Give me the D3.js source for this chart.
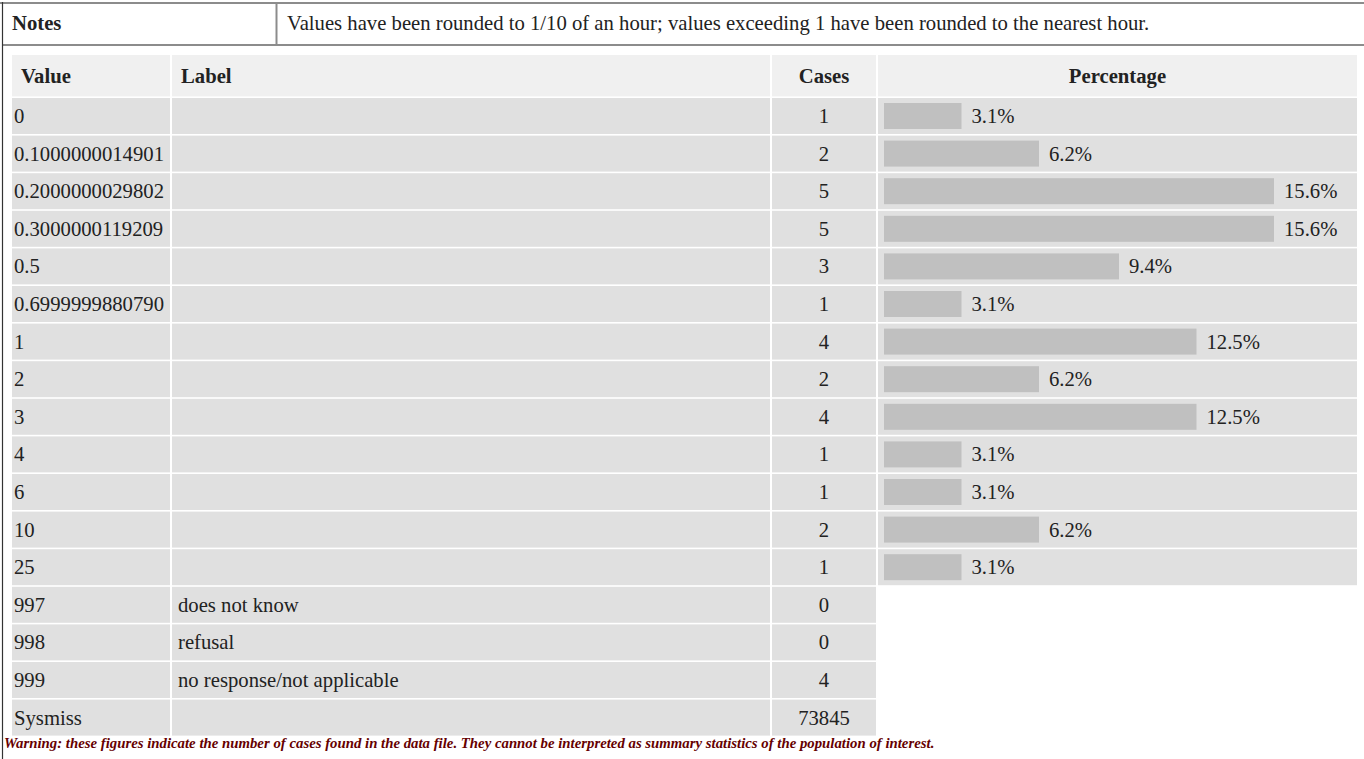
<!DOCTYPE html>
<html>
<head>
<meta charset="utf-8">
<script src="https://cdn.jsdelivr.net/npm/d3@7"></script>
<style>
  html, body { margin: 0; padding: 0; background: #ffffff; }
  svg { display: block; }
  text { font-family: "Liberation Serif", "Times New Roman", serif; }
</style>
</head>
<body>
<div id="chart"></div>
<script>
// ---------- data ----------
const noteLabel = "Notes";
const noteText = "Values have been rounded to 1/10 of an hour; values exceeding 1 have been rounded to the nearest hour.";
const headers = ["Value", "Label", "Cases", "Percentage"];
const values = ["0", "0.1000000014901", "0.2000000029802", "0.3000000119209", "0.5", "0.6999999880790",
  "1", "2", "3", "4", "6", "10", "25", "997", "998", "999", "Sysmiss"];
const labels = ["", "", "", "", "", "", "", "", "", "", "", "", "",
  "does not know", "refusal", "no response/not applicable", ""];
const cases = [1, 2, 5, 5, 3, 1, 4, 2, 4, 1, 1, 2, 1, 0, 0, 4, 73845];
const percentages = [3.1, 6.2, 15.6, 15.6, 9.4, 3.1, 12.5, 6.2, 12.5, 3.1, 3.1, 6.2, 3.1, null, null, null, null];
const warning = "Warning: these figures indicate the number of cases found in the data file. They cannot be interpreted as summary statistics of the population of interest.";

// ---------- layout ----------
const W = 1364, H = 759;
const svg = d3.select("#chart").append("svg").attr("width", W).attr("height", H);

const FONT = 20.7;
const textColor = "#222";
const rowBg = "#e0e0e0";
const headBg = "#f0f0f0";
const barColor = "#c0c0c0";

// columns
const cols = [
  { x0: 12, x1: 170 },
  { x0: 172, x1: 770 },
  { x0: 772, x1: 876 },
  { x0: 878, x1: 1357 }
];

// rows
const idx = values.map((d, i) => i);
const y = d3.scaleBand().domain(idx).range([98, 735.6]).paddingInner(1.6 / 37.6).paddingOuter(0);
const headTop = 55, headBot = 96.4;

// bar scale
const x = d3.scaleLinear().domain([0, d3.max(percentages)]).range([0, 390]);
const barX0 = 884;

// ---------- notes row ----------
svg.append("line").attr("x1", 0).attr("x2", W).attr("y1", 3).attr("y2", 3)
  .attr("stroke", "#8c8c8c").attr("stroke-width", 2);
svg.append("line").attr("x1", 3).attr("x2", W).attr("y1", 45).attr("y2", 45)
  .attr("stroke", "#8c8c8c").attr("stroke-width", 2);
svg.append("line").attr("x1", 276.5).attr("x2", 276.5).attr("y1", 3).attr("y2", 45)
  .attr("stroke", "#8c8c8c").attr("stroke-width", 2);
svg.append("line").attr("x1", 2.5).attr("x2", 2.5).attr("y1", 2).attr("y2", H)
  .attr("stroke", "#333").attr("stroke-width", 1.2);

svg.append("text").attr("x", 12).attr("y", 23).attr("dominant-baseline", "central")
  .attr("font-size", FONT).attr("font-weight", "bold").attr("fill", textColor).text(noteLabel);
svg.append("text").attr("x", 287).attr("y", 23).attr("dominant-baseline", "central")
  .attr("font-size", FONT).attr("fill", textColor).text(noteText);

// ---------- header ----------
const hdr = svg.append("g");
cols.forEach((c, i) => {
  hdr.append("rect").attr("x", c.x0).attr("y", headTop).attr("width", c.x1 - c.x0)
    .attr("height", headBot - headTop).attr("fill", headBg);
});
const headCenter = (headTop + headBot) / 2;
hdr.append("text").attr("x", 21).attr("y", headCenter).text(headers[0]);
hdr.append("text").attr("x", 181).attr("y", headCenter).text(headers[1]);
hdr.append("text").attr("x", (cols[2].x0 + cols[2].x1) / 2).attr("y", headCenter)
  .attr("text-anchor", "middle").text(headers[2]);
hdr.append("text").attr("x", (cols[3].x0 + cols[3].x1) / 2).attr("y", headCenter)
  .attr("text-anchor", "middle").text(headers[3]);
hdr.selectAll("text").attr("dominant-baseline", "central").attr("font-size", FONT)
  .attr("font-weight", "bold").attr("fill", textColor);

// ---------- body ----------
const rows = svg.append("g").selectAll("g").data(idx).join("g")
  .attr("transform", i => `translate(0,${y(i)})`);
const bh = y.bandwidth();

rows.each(function (i) {
  const g = d3.select(this);
  const nCols = percentages[i] == null ? 3 : 4;
  for (let c = 0; c < nCols; c++) {
    g.append("rect").attr("x", cols[c].x0).attr("width", cols[c].x1 - cols[c].x0)
      .attr("height", bh).attr("fill", rowBg);
  }
  g.append("text").attr("x", 14).attr("y", bh / 2).text(values[i]);
  g.append("text").attr("x", 178).attr("y", bh / 2).text(labels[i]);
  g.append("text").attr("x", (cols[2].x0 + cols[2].x1) / 2).attr("y", bh / 2)
    .attr("text-anchor", "middle").text(cases[i]);
  if (percentages[i] != null) {
    const w = x(percentages[i]);
    g.append("rect").attr("x", barX0).attr("y", bh / 2 - 13).attr("width", w)
      .attr("height", 26).attr("fill", barColor);
    g.append("text").attr("x", barX0 + w + 10).attr("y", bh / 2)
      .text(d3.format(".1f")(percentages[i]) + "%");
  }
  g.selectAll("text").attr("dominant-baseline", "central").attr("font-size", FONT)
    .attr("fill", textColor);
});

// ---------- warning ----------
svg.append("text").attr("x", 4).attr("y", 748)
  .attr("font-size", 14.8).attr("font-weight", "bold").attr("font-style", "italic")
  .attr("fill", "#660000").text(warning);
</script>
</body>
</html>
